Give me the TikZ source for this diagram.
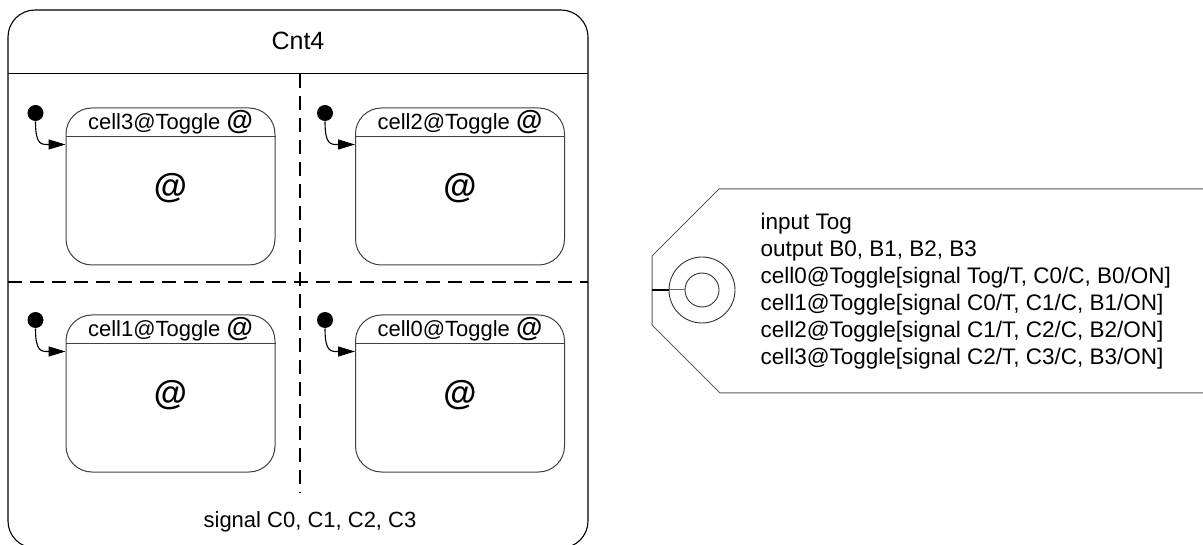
\documentclass[tikz,border=0pt]{standalone}
\usepackage{fontspec}
\setmainfont{Liberation Sans}
\usetikzlibrary{arrows.meta,calc}
\newcommand\hdrat{{\bfseries\fontsize{27}{27}\selectfont @}}
\begin{document}
\begin{tikzpicture}[x=1pt,y=-1pt,
  line width=1pt,
  outerbox/.style={draw=black, line width=1.1pt, rounded corners=27pt, minimum width=580pt, minimum height=538pt, inner sep=0},
  statebox/.style={draw=black!75, line width=1pt, rounded corners=26pt, minimum width=209pt, minimum height=157pt, inner sep=0},
  headline/.style={draw=black!75, line width=1pt},
  initdot/.style={circle, fill=black, inner sep=0, minimum size=16pt},
  initarrow/.style={draw=black, line width=1.1pt, -{Triangle[length=17pt,width=10pt]}},
  lbl/.style={font=\fontsize{22}{22}\selectfont, inner sep=0},
  bigat/.style={font=\bfseries\fontsize{34}{34}\selectfont, inner sep=0},
  divider/.style={draw=black, line width=1.1pt, dash pattern=on 14pt off 8pt},
  tagline/.style={draw=black!65, line width=1pt},
  ringline/.style={draw=black!80, line width=0.9pt, circle, inner sep=0},
]
\useasboundingbox (0,0) rectangle (1203,545);
\clip (0,0) rectangle (1203,545);

% outer composite state
\node[outerbox] (cnt) at (298,279) {};
\node[font=\fontsize{25}{25}\selectfont, inner sep=0] (title) at (298,41) {Cnt4};
\coordinate (hl) at (8,74);
\coordinate (hr) at (588,74);
\draw (hl) -- (hr);
\coordinate (vt) at (300,74);
\coordinate (vb) at (300,493);
\draw[divider] (vt) -- (vb);
\coordinate (ml) at (8,282);
\coordinate (mr) at (588,282);
\draw[divider] (ml) -- (mr);
\node[lbl] (sig) at (310,522) {signal C0, C1, C2, C3};

% sub-states
\foreach \n/\cx/\cy/\txt in {s3/170.5/186.5/cell3, s2/460/186.5/cell2, s1/170.5/393.5/cell1, s0/460/393.5/cell0}{
  \node[statebox] (\n) at (\cx,\cy) {};
  \draw[headline] ($(\n.north west)+(0,29)$) -- ($(\n.north east)+(0,29)$);
  \node[lbl, anchor=center] (\n lab) at ($(\n.north)+(0,15)$) {\txt @Toggle \hdrat};
  \node[bigat] (\n at) at ($(\n.north)+(0,81)$) {@};
  \node[initdot] (\n i) at ($(\n.north west)+(-30,5.5)$) {};
  \coordinate (\n t) at ($(\n.north west)+(0,37)$);
  \draw[initarrow] (\n i.south) .. controls ($(\n i.south)+(0,24)$) and ($(\n t)+(-24,0)$) .. (\n t);
}

% tag (declarations)
\draw[tagline] (719,189) -- (1215,189) -- (1215,393) -- (720,393) -- (652,325) -- (652,256) -- cycle;
\node[ringline, minimum size=66pt] (ring) at (702,290) {};
\node[ringline, minimum size=34pt] (hole) at (702,290) {};
\coordinate (tagl) at (652,290);
\draw[line width=1.3pt, black] (tagl) -- (ring.west);
\draw[line width=1pt, black!60] (ring.west) -- (hole.west);
\node[anchor=west, align=left, font=\fontsize{22.5}{27}\selectfont, inner sep=0] (decl) at (760,291)
  {input Tog\\output B0, B1, B2, B3\\cell0@Toggle[signal Tog/T, C0/C, B0/ON]\\cell1@Toggle[signal C0/T, C1/C, B1/ON]\\cell2@Toggle[signal C1/T, C2/C, B2/ON]\\cell3@Toggle[signal C2/T, C3/C, B3/ON]};
\end{tikzpicture}
\end{document}
